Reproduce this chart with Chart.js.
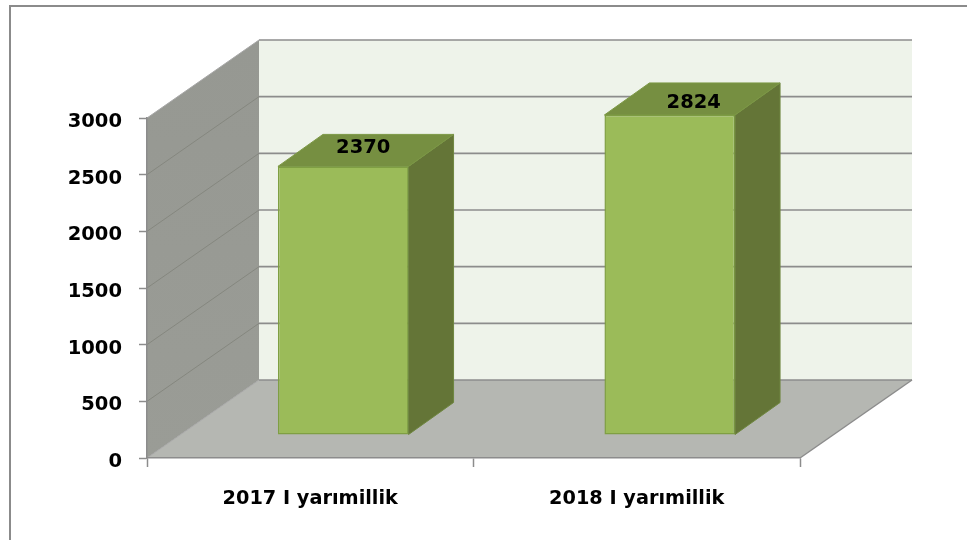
<!DOCTYPE html>
<html>
<head>
<meta charset="utf-8">
<style>html,body{margin:0;padding:0;background:#fff;overflow:hidden}canvas{display:block;filter:blur(0.45px)}</style>
<script src="https://cdn.jsdelivr.net/npm/chart.js@4/dist/chart.umd.min.js"></script>
</head>
<body>
<canvas id="c" width="967" height="540"></canvas>
<script>
const categories = ['2017 I yarımillik', '2018 I yarımillik'];
const values = [2370, 2824];
const tickValues = [0, 500, 1000, 1500, 2000, 2500, 3000];

const FONT = 'bold 19.5px "DejaVu Sans"';
const wallDepth = { x: 112, y: -78 };
const barShift = { x: 33, y: -23 };
const barDepth = { x: 45, y: -32 };
const labelOffsets = [{ x: 20, y: -18 }, { x: 24, y: -12 }];
const yLabelDrop = 4;

function poly(ctx, pts, fill, stroke, lw) {
  ctx.beginPath();
  pts.forEach((p, i) => i ? ctx.lineTo(p[0], p[1]) : ctx.moveTo(p[0], p[1]));
  ctx.closePath();
  if (fill) { ctx.fillStyle = fill; ctx.fill(); }
  if (stroke) { ctx.strokeStyle = stroke; ctx.lineWidth = lw || 1; ctx.stroke(); }
}
function line(ctx, x1, y1, x2, y2, color, lw) {
  ctx.beginPath(); ctx.moveTo(x1, y1); ctx.lineTo(x2, y2);
  ctx.strokeStyle = color; ctx.lineWidth = lw; ctx.stroke();
}

const scene = {
  id: 'scene',
  afterLayout(chart) {
    // tick labels in the reference sit slightly below their tick marks
    const ys = chart.scales.y;
    ys.getLabelItems(chart.chartArea).forEach(item => {
      item.options.translation[1] += yLabelDrop;
    });
  },
  beforeDraw(chart) {
    const ctx = chart.ctx;
    ctx.save();
    ctx.fillStyle = '#fff';
    ctx.fillRect(0, 0, chart.width, chart.height);
    line(ctx, 10, 6, 967, 6, '#8b8b8b', 2);
    line(ctx, 10, 5, 10, 540, '#8b8b8b', 2);
    ctx.restore();
  },
  beforeDatasetsDraw(chart) {
    const ctx = chart.ctx, xs = chart.scales.x, ys = chart.scales.y;
    const d = wallDepth, L = xs.left, R = xs.right;
    const y0 = ys.getPixelForValue(0), yT = ys.getPixelForValue(3000);
    ctx.save();
    poly(ctx, [[L + d.x, yT + d.y], [R + d.x, yT + d.y], [R + d.x, y0 + d.y], [L + d.x, y0 + d.y]], '#eef3ea');
    const g = ctx.createLinearGradient(0, yT + d.y, 0, y0);
    g.addColorStop(0, '#969892');
    g.addColorStop(1, '#9a9c96');
    poly(ctx, [[L, yT], [L + d.x, yT + d.y], [L + d.x, y0 + d.y], [L, y0]], g);
    poly(ctx, [[L, y0], [L + d.x, y0 + d.y], [R + d.x, y0 + d.y], [R, y0]], '#b5b7b2');
    tickValues.forEach(v => {
      const y = ys.getPixelForValue(v);
      line(ctx, L, y, L + d.x, y + d.y, v === 0 || v === 3000 ? '#a8a8a8' : '#85877f', 1);
      line(ctx, L + d.x, y + d.y, R + d.x, y + d.y, '#8c8c8c', 1.6);
    });
    line(ctx, R, y0, R + d.x, y0 + d.y, '#8c8c8c', 1.5);
    ctx.restore();
  },
  beforeDatasetDraw(chart) {
    chart.ctx.save();
    chart.ctx.translate(barShift.x, barShift.y);
  },
  afterDatasetDraw(chart, args) {
    const ctx = chart.ctx;
    ctx.restore();
    const d = barDepth;
    args.meta.data.forEach((bar, i) => {
      const p = bar.getProps(['x', 'y', 'base', 'width'], true);
      const l = p.x - p.width / 2 + barShift.x, r = p.x + p.width / 2 + barShift.x;
      const t = p.y + barShift.y, b = p.base + barShift.y;
      ctx.save();
      ctx.lineJoin = 'round';
      poly(ctx, [[r, t], [r + d.x, t + d.y], [r + d.x, b + d.y], [r, b]], '#647537', '#6f8740', 1);
      poly(ctx, [[l, t], [l + d.x, t + d.y], [r + d.x, t + d.y], [r, t]], '#768f41', '#7c9845', 1);
      ctx.fillStyle = '#000';
      ctx.font = FONT;
      ctx.textAlign = 'center';
      ctx.textBaseline = 'middle';
      ctx.fillText(String(values[i]), (l + r) / 2 + labelOffsets[i].x, t + labelOffsets[i].y);
      ctx.restore();
    });
  }
};

new Chart(document.getElementById('c'), {
  type: 'bar',
  data: {
    labels: categories,
    datasets: [{
      data: values,
      backgroundColor: '#9bbb59',
      borderColor: '#7f9f43',
      borderWidth: 1.5,
      borderSkipped: false,
      categoryPercentage: 1,
      barPercentage: 0.4,
      clip: false
    }]
  },
  options: {
    responsive: false,
    animation: false,
    events: [],
    layout: { padding: { left: 0, top: 118, right: 167, bottom: 0 } },
    plugins: { legend: { display: false }, tooltip: { enabled: false }, title: { display: false } },
    scales: {
      x: {
        offset: true,
        afterFit(s) { s.height = 82; },
        grid: { drawOnChartArea: false, tickLength: 9, tickColor: '#8c8c8c', tickWidth: 1.5, z: 1, offset: true },
        border: { color: '#8c8c8c', width: 1.5, z: 1 },
        ticks: { color: '#000', font: { family: 'DejaVu Sans', size: 19.3, weight: 'bold' }, padding: 20, maxRotation: 0, autoSkip: false }
      },
      y: {
        min: 0,
        max: 3000,
        afterFit(s) { s.width = 147; },
        afterBuildTicks(s) { s.ticks = tickValues.map(v => ({ value: v })); },
        grid: { drawOnChartArea: false, tickLength: 8, tickColor: '#8c8c8c', tickWidth: 1.5, z: 1 },
        border: { color: '#8c8c8c', width: 1.5, z: 1 },
        ticks: { color: '#000', font: { family: 'DejaVu Sans', size: 19.5, weight: 'bold' }, padding: 17, callback: v => String(v) }
      }
    }
  },
  plugins: [scene]
});
</script>
</body>
</html>
